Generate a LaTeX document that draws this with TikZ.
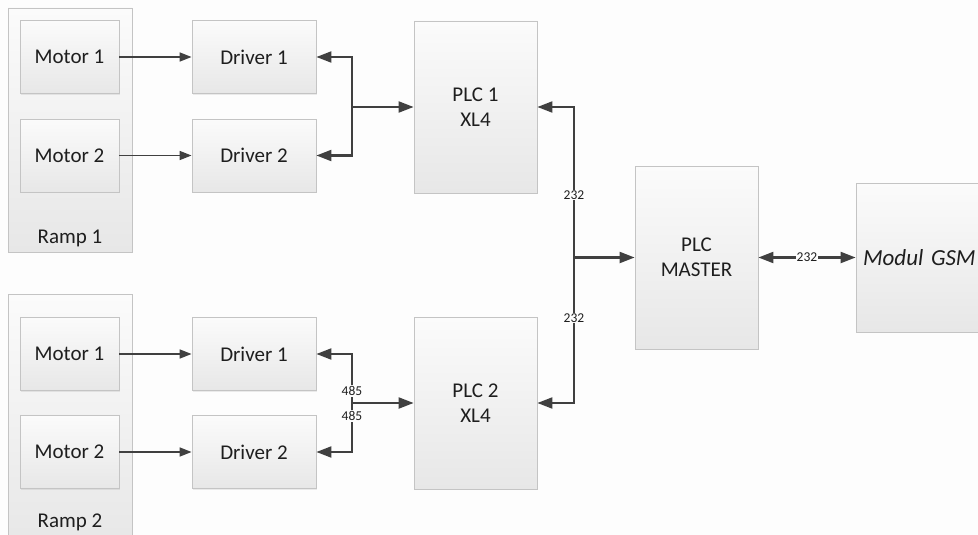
\documentclass[tikz,border=0pt]{standalone}
\usepackage{fontspec}
\setmainfont{Carlito}
\usetikzlibrary{arrows.meta,shadows}
\definecolor{boxline}{HTML}{C4C4C4}
\definecolor{boxtop}{HTML}{FBFBFB}
\definecolor{boxbot}{HTML}{E7E7E7}
\definecolor{arrc}{HTML}{404040}
\definecolor{txt}{HTML}{1E1E1E}
\definecolor{bgc}{HTML}{FDFDFD}
\begin{document}
\begin{tikzpicture}[x=1pt,y=-1pt,
  box/.style={draw=boxline, line width=0.8pt, top color=boxtop, bottom color=boxbot,
    drop shadow={shadow xshift=1.2pt, shadow yshift=-1.2pt, opacity=0.15},
    font=\fontsize{21}{25}\selectfont, text=txt, align=center, inner sep=0pt},
  motor/.style={box, minimum width=99pt, minimum height=73pt},
  drv/.style={box, minimum width=124pt, minimum height=73pt},
  plc/.style={box, minimum width=123pt, minimum height=172pt},
  ramp/.style={box, minimum width=124pt},
  rlbl/.style={font=\fontsize{21}{25}\selectfont, text=txt, inner sep=0pt},
  arr/.style={draw=arrc, line width=1.6pt, -{Triangle[length=12pt,width=9pt]}},
  bus/.style={draw=arrc, line width=2.1pt, -{Triangle[length=15pt,width=11pt]}},
  lbl/.style={fill=bgc, inner sep=1pt, font=\fontsize{13.5}{15}\selectfont, text=txt}]
\useasboundingbox (0,0) rectangle (978,535);
\fill[bgc] (0,0) rectangle (978,535);
\begin{scope}
\clip (0,0) rectangle (978,535);
% ramp containers
\node[ramp, minimum height=244pt] (r1) at (70,130) {};
\node[rlbl] (r1l) at (70,238) {Ramp 1};
\node[ramp, minimum height=252pt] (r2) at (70,420) {};
\node[rlbl] (r2l) at (70,522) {Ramp 2};
% motors
\node[motor] (m11) at (69.5,57) {Motor 1};
\node[motor] (m12) at (69.5,155.5) {Motor 2};
\node[motor] (m21) at (69.5,354) {Motor 1};
\node[motor] (m22) at (69.5,452) {Motor 2};
% drivers
\node[drv] (d11) at (254,57) {Driver 1};
\node[drv] (d12) at (254,155.5) {Driver 2};
\node[drv] (d21) at (254,354) {Driver 1};
\node[drv] (d22) at (254,452) {Driver 2};
% PLCs
\node[plc] (p1) at (475.5,107) {PLC 1\\XL4};
\node[plc] (p2) at (475.5,403) {PLC 2\\XL4};
\node[box, minimum width=123pt, minimum height=183pt] (pm) at (696.5,257.5) {PLC\\MASTER};
\node[box, minimum height=149pt, text width=136pt, inner xsep=7pt, align=left,
  font=\fontsize{23}{27}\selectfont\itshape] (gsm) at (931,257.5) {Modul GSM};
% motor -> driver
\draw[arr] (m11) -- (d11);
\draw[arr] (m12) -- (d12);
\draw[arr] (m21) -- (d21);
\draw[arr] (m22) -- (d22);
% junctions
\coordinate (j1) at (352,107);
\coordinate (j2) at (352,403);
\coordinate (jm) at (574,257.5);
\draw[bus] (j1) |- (d11.east);
\draw[bus] (j1) |- (d12.east);
\draw[bus] (j1) -- (p1.west);
\draw[bus] (j2) |- (d21.east);
\draw[bus] (j2) |- (d22.east);
\draw[bus] (j2) -- (p2.west);
\node[lbl] (l485a) at (352,391) {485};
\node[lbl] (l485b) at (352,416) {485};
\draw[bus] (jm) |- (p1.east);
\draw[bus] (jm) |- (p2.east);
\draw[bus] (jm) -- (pm.west);
\node[lbl] (l232a) at (574,195) {232};
\node[lbl] (l232b) at (574,318) {232};
\draw[bus, {Triangle[length=15pt,width=11pt]}-{Triangle[length=15pt,width=11pt]}] (pm.east) -- node[lbl] (l232c) {232} (gsm.west);
\end{scope}
\end{tikzpicture}
\end{document}
